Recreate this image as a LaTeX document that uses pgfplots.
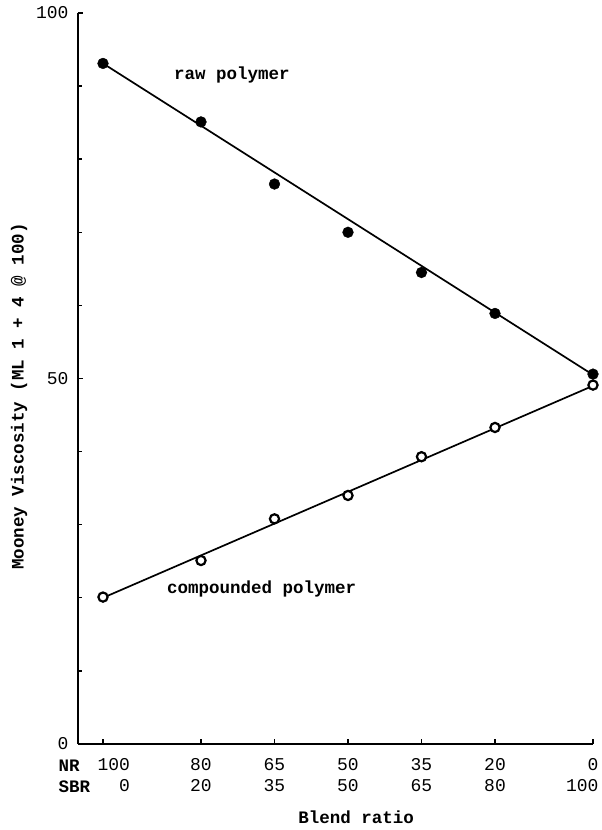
\documentclass[border=0pt]{standalone}
\usepackage{pgfplots}
\pgfplotsset{compat=1.18}
\usepackage{pgfplotstable}
\usepackage{fontspec}
\setmainfont{Liberation Mono}
\newcommand\tw{\fontsize{17.5}{21}\selectfont\bfseries}
\newcommand\tn{\fontsize{18}{21}\selectfont}

% Mooney viscosity of NR/SBR blends (x = SBR content)
\pgfplotstableread{
sbr raw comp
0   93.1 20.1
20  85.1 25.1
35  76.6 30.8
50  70.0 34.0
65  64.5 39.3
80  58.9 43.3
100 50.6 49.1
}\blend

\begin{document}
\begin{tikzpicture}[font=\tw]
\path[use as bounding box] (0,0) rectangle (602pt,830pt);
\begin{axis}[
  at={(78pt,86pt)}, anchor=south west,
  scale only axis, width=515pt, height=731pt,
  xmin=-5.1, xmax=100, ymin=0, ymax=100,
  axis x line=bottom, axis y line=left,
  axis line style={-, line width=2.2pt},
  tick align=inside, major tick length=5pt, minor tick length=4pt,
  tick style={line width=1.4pt, black},
  xtick={0,20,35,50,65,80,100},
  xticklabels={{\hphantom{00}100\\\hphantom{0000}0},{80\\20},{65\\35},{50\\50},{35\\65},{20\\80},{\hphantom{00}0\hphantom{00}\\100\hphantom{00}}},
  xticklabel style={align=center, font=\tn, yshift=-11pt},
  ytick={0,50,100}, yticklabels={0,50,100},
  yticklabel style={font=\tn, xshift=-6pt},
  minor ytick={10,20,30,40,60,70,80,90},
  clip=false,
  xlabel={Blend ratio}, ylabel={Mooney Viscosity (ML 1 + 4 @ 100)},
  xlabel style={at={(axis description cs:0.54,-0.0999)}, anchor=center, font=\tw},
  ylabel style={at={(axis description cs:-0.1146,0.4754)}, anchor=center, font=\tw},
]
% fitted straight lines
\addplot[line width=1.7pt, no marks] coordinates {(0,93.1) (100,50.5)};
\addplot[line width=1.7pt, no marks] coordinates {(0,20.0) (100,49.0)};
% measured values
\addplot[only marks, mark=*, mark size=5.4pt, black] table[x=sbr, y=raw] {\blend};
\addplot[only marks, mark=*, mark size=4.6pt, line width=2.2pt, draw=black, fill=white] table[x=sbr, y=comp] {\blend};
\node at (axis cs:26.3,91.5) {raw polymer};
\node at (axis cs:32.4,21.2) {compounded polymer};
\end{axis}
\node[anchor=west] at (55pt,64pt) {NR};
\node[anchor=west] at (55pt,43pt) {SBR};
\end{tikzpicture}
\end{document}
